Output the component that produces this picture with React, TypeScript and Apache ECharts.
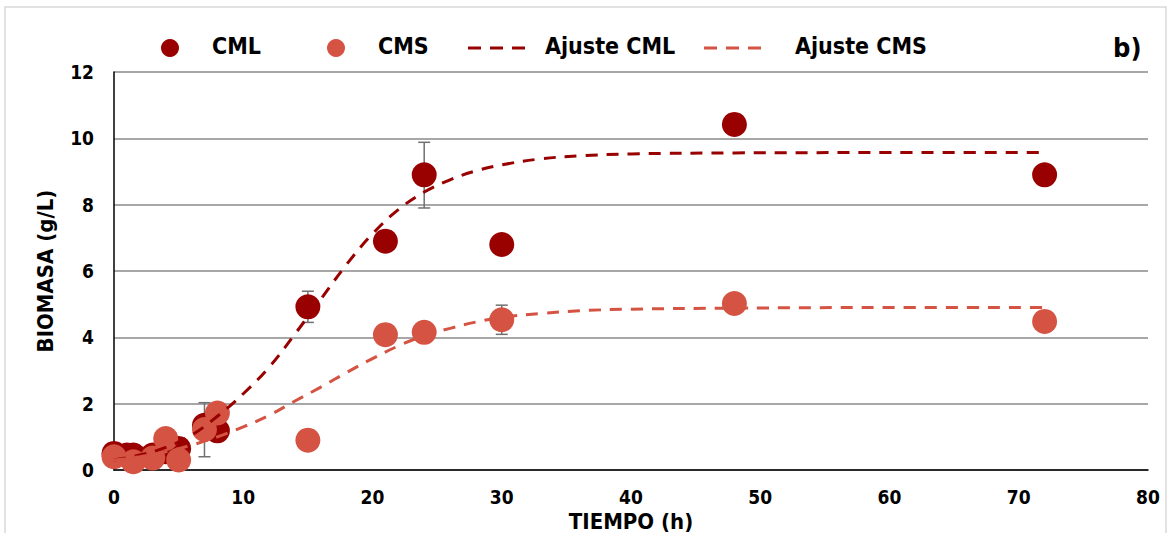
import React, { useEffect, useRef } from "react";
import * as echarts from "echarts";

// Measured biomass (g/L) over time (h)
const timeCML = [0, 1, 1.5, 3, 4, 5, 7, 8, 15, 21, 24, 30, 48, 72];
const biomasaCML = [0.5, 0.45, 0.45, 0.45, 0.55, 0.65, 1.35, 1.18, 4.92, 6.9, 8.9, 6.8, 10.42, 8.9];

const timeCMS = [0, 1.5, 3, 4, 5, 7, 8, 15, 21, 24, 30, 48, 72];
const biomasaCMS = [0.4, 0.25, 0.36, 0.95, 0.3, 1.22, 1.72, 0.9, 4.08, 4.15, 4.53, 5.02, 4.48];

// Fitted growth curves
const timeFit = [0, 2, 4, 6, 8, 10, 12, 14, 16, 18, 20, 22, 24, 26, 28, 30, 33, 36, 40, 48, 60, 72];
const ajusteCML = [0.3, 0.45, 0.68, 1.05, 1.62, 2.3, 3.1, 4.1, 5.15, 6.2, 7.12, 7.85, 8.38, 8.75, 9.02, 9.2, 9.38, 9.47, 9.53, 9.56, 9.57, 9.57];
const ajusteCMS = [0.3, 0.4, 0.55, 0.75, 1.0, 1.3, 1.65, 2.08, 2.5, 2.94, 3.36, 3.74, 4.05, 4.27, 4.46, 4.6, 4.72, 4.8, 4.85, 4.88, 4.9, 4.9];

// Error bars: time, lower, upper
const errTime = [7, 15, 24, 30];
const errLow = [0.4, 4.45, 7.9, 4.09];
const errHigh = [2.03, 5.39, 9.88, 4.97];

const xTicks = [0, 10, 20, 30, 40, 50, 60, 70, 80];
const yTicks = [0, 2, 4, 6, 8, 10, 12];

const DARK = "#990000";
const LIGHT = "#D55342";
const FONT = "'DejaVu Sans Condensed', 'Liberation Sans', sans-serif";

export default function App() {
  const ref = useRef<HTMLDivElement>(null);

  useEffect(() => {
    document.body.style.margin = "0";
    if (!ref.current) return;
    const chart = echarts.init(ref.current, null, { renderer: "svg" });

    const zip = (xs: number[], ys: number[]) => xs.map((x, i) => [x, ys[i]]);

    const legendY = 48;
    const legendText = (x: number, text: string) => ({
      type: "text",
      left: x,
      top: legendY - 14,
      style: { text, fill: "#000", font: `bold 23px ${FONT}` },
    });
    const legendDash = (x: number, color: string) => ({
      type: "line",
      shape: { x1: x, y1: legendY, x2: x + 57, y2: legendY },
      style: { stroke: color, lineWidth: 3, lineDash: [13, 9] },
    });

    chart.setOption({
      animation: false,
      backgroundColor: "#fff",
      grid: { left: 114, right: 23, top: 72, bottom: 63, containLabel: false, outerBoundsMode: "none" },
      xAxis: {
        type: "value",
        min: xTicks[0],
        max: xTicks[xTicks.length - 1],
        interval: 10,
        name: "TIEMPO (h)",
        nameLocation: "middle",
        nameGap: 36,
        nameTextStyle: { fontFamily: FONT, fontWeight: "bold", fontSize: 22, color: "#000" },
        axisLine: { lineStyle: { color: "#000", width: 1.5 } },
        axisTick: { show: false },
        splitLine: { show: false },
        axisLabel: { fontFamily: FONT, fontWeight: "bold", fontSize: 19, color: "#000", margin: 17 },
      },
      yAxis: {
        type: "value",
        min: yTicks[0],
        max: yTicks[yTicks.length - 1],
        interval: 2,
        name: "BIOMASA (g/L)",
        nameLocation: "middle",
        nameGap: 58,
        nameTextStyle: { fontFamily: FONT, fontWeight: "bold", fontSize: 22, color: "#000" },
        axisLine: { show: true, lineStyle: { color: "#000", width: 1.5 } },
        axisTick: { show: false },
        splitLine: { show: true, lineStyle: { color: "#8a8a8a", width: 1.5 } },
        axisLabel: { fontFamily: FONT, fontWeight: "bold", fontSize: 19, color: "#000", margin: 20 },
      },
      series: [
        {
          type: "custom",
          name: "error",
          z: 1,
          data: errTime.map((t, i) => [t, errLow[i], errHigh[i]]),
          renderItem: (_params: any, api: any) => {
            const lo = api.coord([api.value(0), api.value(1)]);
            const hi = api.coord([api.value(0), api.value(2)]);
            const w = 6;
            const style = { stroke: "#707070", lineWidth: 1.5, fill: "none" };
            return {
              type: "group",
              children: [
                { type: "line", shape: { x1: lo[0], y1: lo[1], x2: hi[0], y2: hi[1] }, style },
                { type: "line", shape: { x1: lo[0] - w, y1: lo[1], x2: lo[0] + w, y2: lo[1] }, style },
                { type: "line", shape: { x1: hi[0] - w, y1: hi[1], x2: hi[0] + w, y2: hi[1] }, style },
              ],
            };
          },
        },
        {
          type: "scatter",
          name: "CML",
          z: 2,
          symbolSize: 25,
          itemStyle: { color: DARK, opacity: 1 },
          data: zip(timeCML, biomasaCML),
        },
        {
          type: "scatter",
          name: "CMS",
          z: 3,
          symbolSize: 25,
          itemStyle: { color: LIGHT, opacity: 1 },
          data: zip(timeCMS, biomasaCMS),
        },
        {
          type: "line",
          name: "Ajuste CML",
          z: 4,
          smooth: 0.4,
          showSymbol: false,
          lineStyle: { color: DARK, width: 3, type: [12, 9] },
          data: zip(timeFit, ajusteCML),
        },
        {
          type: "line",
          name: "Ajuste CMS",
          z: 4,
          smooth: 0.4,
          showSymbol: false,
          lineStyle: { color: LIGHT, width: 3, type: [12, 9] },
          data: zip(timeFit, ajusteCMS),
        },
      ],
      graphic: [
        {
          type: "rect",
          shape: { x: 5, y: 7, width: 1161, height: 540 },
          style: { fill: "none", stroke: "#d9d9d9", lineWidth: 1.5 },
          z: -1,
        },
        { type: "circle", shape: { cx: 170, cy: legendY, r: 9 }, style: { fill: DARK } },
        legendText(212, "CML"),
        { type: "circle", shape: { cx: 336, cy: legendY, r: 9 }, style: { fill: LIGHT } },
        legendText(378, "CMS"),
        legendDash(468, DARK),
        legendText(545, "Ajuste CML"),
        legendDash(704, LIGHT),
        legendText(795, "Ajuste CMS"),
        {
          type: "text",
          left: 1113,
          top: 34,
          style: { text: "b)", fill: "#000", font: `bold 27px ${FONT}` },
        },
      ],
    });

    return () => chart.dispose();
  }, []);

  return <div ref={ref} style={{ width: 1171, height: 533 }} />;
}
